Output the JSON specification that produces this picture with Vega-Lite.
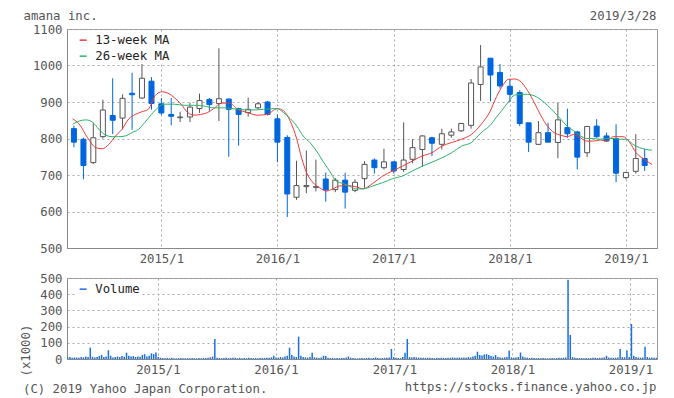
{
  "$schema": "https://vega.github.io/schema/vega-lite/v6.json",
  "background": "white",
  "autosize": {"type": "pad"},
  "padding": {"left": 18, "top": 8, "right": 10, "bottom": 5},
  "bounds": "flush",
  "spacing": 30,
  "resolve": {"scale": {"color": "independent"}, "legend": {"color": "independent"}},
  "config": {
    "font": "DejaVu Sans Mono",
    "view": {"stroke": "#999", "strokeWidth": 1},
    "axis": {
      "labelFont": "DejaVu Sans Mono", "labelFontSize": 12.3, "labelColor": "#555",
      "titleFont": "DejaVu Sans Mono", "titleFontSize": 12.3, "titleFontWeight": "normal", "titleColor": "#555",
      "ticks": false, "domain": true, "domainColor": "#888",
      "gridColor": "#aaa", "gridDash": [2, 3], "gridWidth": 1
    },
    "title": {"font": "DejaVu Sans Mono", "fontSize": 12.3, "fontWeight": "normal", "color": "#555"}
  },
  "datasets": {
    "candles": [
      {"d":"2014-04-01","o":827,"h":835,"l":776,"c":790},
      {"d":"2014-05-01","o":798,"h":802,"l":688,"c":726},
      {"d":"2014-06-01","o":734,"h":843,"l":730,"c":802},
      {"d":"2014-07-01","o":805,"h":906,"l":800,"c":878},
      {"d":"2014-08-01","o":863,"h":965,"l":812,"c":850},
      {"d":"2014-09-01","o":856,"h":921,"l":825,"c":910},
      {"d":"2014-10-01","o":924,"h":980,"l":824,"c":920},
      {"d":"2014-11-01","o":911,"h":1026,"l":908,"c":965},
      {"d":"2014-12-01","o":957,"h":968,"l":879,"c":896},
      {"d":"2015-01-01","o":895,"h":911,"l":864,"c":870},
      {"d":"2015-02-01","o":866,"h":911,"l":836,"c":861},
      {"d":"2015-03-01","o":857,"h":873,"l":845,"c":859},
      {"d":"2015-04-01","o":859,"h":898,"l":845,"c":886},
      {"d":"2015-05-01","o":882,"h":923,"l":870,"c":904},
      {"d":"2015-06-01","o":907,"h":911,"l":876,"c":893},
      {"d":"2015-07-01","o":896,"h":1047,"l":848,"c":909},
      {"d":"2015-08-01","o":908,"h":910,"l":750,"c":880},
      {"d":"2015-09-01","o":882,"h":884,"l":780,"c":866},
      {"d":"2015-10-01","o":871,"h":912,"l":860,"c":880},
      {"d":"2015-11-01","o":884,"h":900,"l":880,"c":895},
      {"d":"2015-12-01","o":900,"h":903,"l":863,"c":866},
      {"d":"2016-01-01","o":854,"h":866,"l":735,"c":790},
      {"d":"2016-02-01","o":803,"h":809,"l":585,"c":648},
      {"d":"2016-03-01","o":639,"h":739,"l":632,"c":671},
      {"d":"2016-04-01","o":668,"h":767,"l":650,"c":671},
      {"d":"2016-05-01","o":666,"h":742,"l":655,"c":668},
      {"d":"2016-06-01","o":689,"h":707,"l":627,"c":659},
      {"d":"2016-07-01","o":660,"h":692,"l":653,"c":686},
      {"d":"2016-08-01","o":686,"h":706,"l":608,"c":653},
      {"d":"2016-09-01","o":658,"h":688,"l":653,"c":680},
      {"d":"2016-10-01","o":690,"h":738,"l":665,"c":729},
      {"d":"2016-11-01","o":741,"h":745,"l":704,"c":720},
      {"d":"2016-12-01","o":720,"h":772,"l":715,"c":736},
      {"d":"2017-01-01","o":736,"h":738,"l":704,"c":711},
      {"d":"2017-02-01","o":715,"h":844,"l":708,"c":741},
      {"d":"2017-03-01","o":743,"h":798,"l":732,"c":775},
      {"d":"2017-04-01","o":770,"h":809,"l":723,"c":807},
      {"d":"2017-05-01","o":802,"h":805,"l":752,"c":787},
      {"d":"2017-06-01","o":784,"h":827,"l":770,"c":813},
      {"d":"2017-07-01","o":809,"h":827,"l":802,"c":818},
      {"d":"2017-08-01","o":821,"h":843,"l":818,"c":841},
      {"d":"2017-09-01","o":836,"h":963,"l":827,"c":952},
      {"d":"2017-10-01","o":948,"h":1056,"l":903,"c":996},
      {"d":"2017-11-01","o":1020,"h":1020,"l":902,"c":974},
      {"d":"2017-12-01","o":981,"h":1004,"l":937,"c":944},
      {"d":"2018-01-01","o":943,"h":963,"l":900,"c":921},
      {"d":"2018-02-01","o":926,"h":932,"l":834,"c":841},
      {"d":"2018-03-01","o":843,"h":843,"l":763,"c":790},
      {"d":"2018-04-01","o":784,"h":848,"l":782,"c":816},
      {"d":"2018-05-01","o":816,"h":843,"l":789,"c":790},
      {"d":"2018-06-01","o":789,"h":898,"l":746,"c":851},
      {"d":"2018-07-01","o":830,"h":882,"l":802,"c":813},
      {"d":"2018-08-01","o":818,"h":821,"l":715,"c":749},
      {"d":"2018-09-01","o":761,"h":834,"l":749,"c":833},
      {"d":"2018-10-01","o":834,"h":853,"l":802,"c":805},
      {"d":"2018-11-01","o":807,"h":816,"l":791,"c":793},
      {"d":"2018-12-01","o":800,"h":839,"l":680,"c":705},
      {"d":"2019-01-01","o":693,"h":707,"l":688,"c":707},
      {"d":"2019-02-01","o":710,"h":812,"l":704,"c":745},
      {"d":"2019-03-01","o":745,"h":772,"l":711,"c":726}
    ],
    "ma": [
      {"s":"13-week MA","d":"2014-03-28","v":854},{"s":"13-week MA","d":"2014-04-18","v":839},{"s":"13-week MA","d":"2014-05-14","v":802},{"s":"13-week MA","d":"2014-06-09","v":775},{"s":"13-week MA","d":"2014-06-29","v":772},{"s":"13-week MA","d":"2014-07-20","v":784},{"s":"13-week MA","d":"2014-08-10","v":807},{"s":"13-week MA","d":"2014-08-30","v":825},{"s":"13-week MA","d":"2014-09-20","v":853},{"s":"13-week MA","d":"2014-10-11","v":866},{"s":"13-week MA","d":"2014-10-31","v":873},{"s":"13-week MA","d":"2014-11-21","v":880},{"s":"13-week MA","d":"2014-12-12","v":917},{"s":"13-week MA","d":"2015-01-03","v":928},{"s":"13-week MA","d":"2015-01-22","v":924},{"s":"13-week MA","d":"2015-02-11","v":912},{"s":"13-week MA","d":"2015-03-04","v":894},{"s":"13-week MA","d":"2015-03-25","v":871},{"s":"13-week MA","d":"2015-04-14","v":864},{"s":"13-week MA","d":"2015-05-05","v":866},{"s":"13-week MA","d":"2015-05-26","v":871},{"s":"13-week MA","d":"2015-06-15","v":882},{"s":"13-week MA","d":"2015-07-08","v":897},{"s":"13-week MA","d":"2015-08-03","v":897},{"s":"13-week MA","d":"2015-08-29","v":880},{"s":"13-week MA","d":"2015-09-29","v":871},{"s":"13-week MA","d":"2015-10-30","v":864},{"s":"13-week MA","d":"2015-11-30","v":866},{"s":"13-week MA","d":"2015-12-31","v":882},{"s":"13-week MA","d":"2016-01-20","v":876},{"s":"13-week MA","d":"2016-02-10","v":848},{"s":"13-week MA","d":"2016-03-02","v":798},{"s":"13-week MA","d":"2016-03-17","v":747},{"s":"13-week MA","d":"2016-04-02","v":706},{"s":"13-week MA","d":"2016-04-22","v":679},{"s":"13-week MA","d":"2016-05-13","v":665},{"s":"13-week MA","d":"2016-06-03","v":656},{"s":"13-week MA","d":"2016-06-23","v":662},{"s":"13-week MA","d":"2016-07-14","v":670},{"s":"13-week MA","d":"2016-08-04","v":671},{"s":"13-week MA","d":"2016-09-04","v":668},{"s":"13-week MA","d":"2016-09-26","v":662},{"s":"13-week MA","d":"2016-10-27","v":677},{"s":"13-week MA","d":"2016-11-27","v":697},{"s":"13-week MA","d":"2016-12-28","v":711},{"s":"13-week MA","d":"2017-01-28","v":724},{"s":"13-week MA","d":"2017-02-28","v":738},{"s":"13-week MA","d":"2017-03-31","v":752},{"s":"13-week MA","d":"2017-05-01","v":761},{"s":"13-week MA","d":"2017-06-01","v":779},{"s":"13-week MA","d":"2017-07-02","v":789},{"s":"13-week MA","d":"2017-08-02","v":798},{"s":"13-week MA","d":"2017-09-02","v":811},{"s":"13-week MA","d":"2017-10-03","v":839},{"s":"13-week MA","d":"2017-11-03","v":880},{"s":"13-week MA","d":"2017-11-15","v":905},{"s":"13-week MA","d":"2017-12-06","v":940},{"s":"13-week MA","d":"2017-12-27","v":962},{"s":"13-week MA","d":"2018-01-16","v":963},{"s":"13-week MA","d":"2018-02-01","v":958},{"s":"13-week MA","d":"2018-02-26","v":931},{"s":"13-week MA","d":"2018-03-19","v":898},{"s":"13-week MA","d":"2018-04-09","v":862},{"s":"13-week MA","d":"2018-04-29","v":834},{"s":"13-week MA","d":"2018-05-20","v":816},{"s":"13-week MA","d":"2018-06-10","v":809},{"s":"13-week MA","d":"2018-06-30","v":805},{"s":"13-week MA","d":"2018-07-21","v":811},{"s":"13-week MA","d":"2018-08-11","v":802},{"s":"13-week MA","d":"2018-08-31","v":793},{"s":"13-week MA","d":"2018-09-21","v":793},{"s":"13-week MA","d":"2018-10-12","v":796},{"s":"13-week MA","d":"2018-11-01","v":793},{"s":"13-week MA","d":"2018-11-22","v":805},{"s":"13-week MA","d":"2018-12-23","v":805},{"s":"13-week MA","d":"2019-01-13","v":789},{"s":"13-week MA","d":"2019-02-02","v":761},{"s":"13-week MA","d":"2019-02-28","v":743},{"s":"13-week MA","d":"2019-03-24","v":729},
      {"s":"26-week MA","d":"2014-03-28","v":839},{"s":"26-week MA","d":"2014-04-18","v":848},{"s":"26-week MA","d":"2014-05-09","v":851},{"s":"26-week MA","d":"2014-05-29","v":845},{"s":"26-week MA","d":"2014-06-19","v":825},{"s":"26-week MA","d":"2014-07-10","v":809},{"s":"26-week MA","d":"2014-07-30","v":805},{"s":"26-week MA","d":"2014-08-20","v":805},{"s":"26-week MA","d":"2014-09-10","v":807},{"s":"26-week MA","d":"2014-09-30","v":816},{"s":"26-week MA","d":"2014-10-21","v":825},{"s":"26-week MA","d":"2014-11-10","v":844},{"s":"26-week MA","d":"2014-12-01","v":866},{"s":"26-week MA","d":"2014-12-22","v":885},{"s":"26-week MA","d":"2015-01-11","v":894},{"s":"26-week MA","d":"2015-02-11","v":894},{"s":"26-week MA","d":"2015-03-14","v":891},{"s":"26-week MA","d":"2015-04-14","v":891},{"s":"26-week MA","d":"2015-05-15","v":889},{"s":"26-week MA","d":"2015-06-15","v":884},{"s":"26-week MA","d":"2015-07-18","v":884},{"s":"26-week MA","d":"2015-08-29","v":880},{"s":"26-week MA","d":"2015-10-09","v":878},{"s":"26-week MA","d":"2015-11-19","v":880},{"s":"26-week MA","d":"2015-12-31","v":882},{"s":"26-week MA","d":"2016-01-20","v":871},{"s":"26-week MA","d":"2016-02-10","v":855},{"s":"26-week MA","d":"2016-03-02","v":834},{"s":"26-week MA","d":"2016-03-22","v":807},{"s":"26-week MA","d":"2016-04-12","v":789},{"s":"26-week MA","d":"2016-05-03","v":766},{"s":"26-week MA","d":"2016-05-23","v":738},{"s":"26-week MA","d":"2016-06-13","v":711},{"s":"26-week MA","d":"2016-07-04","v":683},{"s":"26-week MA","d":"2016-07-24","v":677},{"s":"26-week MA","d":"2016-08-14","v":670},{"s":"26-week MA","d":"2016-09-04","v":662},{"s":"26-week MA","d":"2016-09-26","v":662},{"s":"26-week MA","d":"2016-10-27","v":670},{"s":"26-week MA","d":"2016-11-27","v":679},{"s":"26-week MA","d":"2016-12-28","v":690},{"s":"26-week MA","d":"2017-01-28","v":697},{"s":"26-week MA","d":"2017-02-28","v":711},{"s":"26-week MA","d":"2017-03-31","v":724},{"s":"26-week MA","d":"2017-05-01","v":735},{"s":"26-week MA","d":"2017-06-01","v":747},{"s":"26-week MA","d":"2017-07-02","v":761},{"s":"26-week MA","d":"2017-08-02","v":779},{"s":"26-week MA","d":"2017-09-02","v":789},{"s":"26-week MA","d":"2017-10-03","v":816},{"s":"26-week MA","d":"2017-11-03","v":839},{"s":"26-week MA","d":"2017-11-15","v":853},{"s":"26-week MA","d":"2017-12-06","v":876},{"s":"26-week MA","d":"2017-12-27","v":900},{"s":"26-week MA","d":"2018-01-16","v":919},{"s":"26-week MA","d":"2018-02-06","v":921},{"s":"26-week MA","d":"2018-02-26","v":921},{"s":"26-week MA","d":"2018-03-19","v":917},{"s":"26-week MA","d":"2018-04-09","v":906},{"s":"26-week MA","d":"2018-04-29","v":891},{"s":"26-week MA","d":"2018-05-20","v":873},{"s":"26-week MA","d":"2018-06-10","v":853},{"s":"26-week MA","d":"2018-06-30","v":834},{"s":"26-week MA","d":"2018-07-21","v":821},{"s":"26-week MA","d":"2018-08-11","v":807},{"s":"26-week MA","d":"2018-08-31","v":800},{"s":"26-week MA","d":"2018-09-21","v":800},{"s":"26-week MA","d":"2018-10-12","v":798},{"s":"26-week MA","d":"2018-11-01","v":800},{"s":"26-week MA","d":"2018-11-22","v":800},{"s":"26-week MA","d":"2018-12-13","v":798},{"s":"26-week MA","d":"2019-01-02","v":798},{"s":"26-week MA","d":"2019-01-23","v":784},{"s":"26-week MA","d":"2019-02-13","v":775},{"s":"26-week MA","d":"2019-03-05","v":770},{"s":"26-week MA","d":"2019-03-24","v":768}
    ],
    "vol": [
      {"d":"2014-03-28","v":10},{"d":"2014-04-04","v":12},{"d":"2014-04-11","v":8},{"d":"2014-04-18","v":10},{"d":"2014-04-25","v":9},{"d":"2014-05-02","v":8},{"d":"2014-05-09","v":12},{"d":"2014-05-16","v":10},{"d":"2014-05-23","v":15},{"d":"2014-05-30","v":12},{"d":"2014-06-06","v":70},{"d":"2014-06-13","v":14},{"d":"2014-06-20","v":10},{"d":"2014-06-27","v":12},{"d":"2014-07-04","v":18},{"d":"2014-07-11","v":25},{"d":"2014-07-18","v":12},{"d":"2014-07-25","v":15},{"d":"2014-08-01","v":54},{"d":"2014-08-08","v":20},{"d":"2014-08-15","v":10},{"d":"2014-08-22","v":12},{"d":"2014-08-29","v":15},{"d":"2014-09-05","v":12},{"d":"2014-09-12","v":18},{"d":"2014-09-19","v":14},{"d":"2014-09-26","v":39},{"d":"2014-10-03","v":20},{"d":"2014-10-10","v":15},{"d":"2014-10-17","v":18},{"d":"2014-10-24","v":12},{"d":"2014-10-31","v":16},{"d":"2014-11-07","v":14},{"d":"2014-11-14","v":25},{"d":"2014-11-21","v":30},{"d":"2014-11-28","v":15},{"d":"2014-12-05","v":20},{"d":"2014-12-12","v":35},{"d":"2014-12-19","v":30},{"d":"2014-12-26","v":40},
      {"d":"2015-01-02","v":12},{"d":"2015-01-09","v":8},{"d":"2015-01-16","v":6},{"d":"2015-01-23","v":5},{"d":"2015-01-30","v":6},{"d":"2015-02-06","v":5},{"d":"2015-02-13","v":7},{"d":"2015-02-20","v":5},{"d":"2015-02-27","v":4},{"d":"2015-03-06","v":5},{"d":"2015-03-13","v":6},{"d":"2015-03-20","v":4},{"d":"2015-03-27","v":5},{"d":"2015-04-03","v":5},{"d":"2015-04-10","v":4},{"d":"2015-04-17","v":6},{"d":"2015-04-24","v":5},{"d":"2015-05-01","v":4},{"d":"2015-05-08","v":6},{"d":"2015-05-15","v":5},{"d":"2015-05-22","v":7},{"d":"2015-05-29","v":6},{"d":"2015-06-05","v":8},{"d":"2015-06-12","v":10},{"d":"2015-06-19","v":15},{"d":"2015-06-26","v":124},{"d":"2015-07-03","v":8},{"d":"2015-07-10","v":6},{"d":"2015-07-17","v":5},{"d":"2015-07-24","v":6},{"d":"2015-07-31","v":7},{"d":"2015-08-07","v":5},{"d":"2015-08-14","v":6},{"d":"2015-08-21","v":8},{"d":"2015-08-28","v":7},{"d":"2015-09-04","v":5},{"d":"2015-09-11","v":6},{"d":"2015-09-18","v":5},{"d":"2015-09-25","v":6},{"d":"2015-10-02","v":5},{"d":"2015-10-09","v":7},{"d":"2015-10-16","v":6},{"d":"2015-10-23","v":5},{"d":"2015-10-30","v":6},{"d":"2015-11-06","v":5},{"d":"2015-11-13","v":6},{"d":"2015-11-20","v":7},{"d":"2015-11-27","v":6},{"d":"2015-12-04","v":8},{"d":"2015-12-11","v":7},{"d":"2015-12-18","v":10},{"d":"2015-12-25","v":20},
      {"d":"2016-01-01","v":10},{"d":"2016-01-08","v":8},{"d":"2016-01-15","v":12},{"d":"2016-01-22","v":10},{"d":"2016-01-29","v":15},{"d":"2016-02-05","v":20},{"d":"2016-02-12","v":70},{"d":"2016-02-19","v":25},{"d":"2016-02-26","v":15},{"d":"2016-03-04","v":12},{"d":"2016-03-11","v":138},{"d":"2016-03-18","v":20},{"d":"2016-03-25","v":12},{"d":"2016-04-01","v":10},{"d":"2016-04-08","v":8},{"d":"2016-04-15","v":12},{"d":"2016-04-22","v":39},{"d":"2016-04-29","v":10},{"d":"2016-05-06","v":8},{"d":"2016-05-13","v":6},{"d":"2016-05-20","v":10},{"d":"2016-05-27","v":20},{"d":"2016-06-03","v":18},{"d":"2016-06-10","v":8},{"d":"2016-06-17","v":6},{"d":"2016-06-24","v":7},{"d":"2016-07-01","v":5},{"d":"2016-07-08","v":6},{"d":"2016-07-15","v":5},{"d":"2016-07-22","v":7},{"d":"2016-07-29","v":6},{"d":"2016-08-05","v":10},{"d":"2016-08-12","v":15},{"d":"2016-08-19","v":8},{"d":"2016-08-26","v":6},{"d":"2016-09-02","v":5},{"d":"2016-09-09","v":4},{"d":"2016-09-16","v":5},{"d":"2016-09-23","v":6},{"d":"2016-09-30","v":5},{"d":"2016-10-07","v":6},{"d":"2016-10-14","v":7},{"d":"2016-10-21","v":5},{"d":"2016-10-28","v":6},{"d":"2016-11-04","v":10},{"d":"2016-11-11","v":6},{"d":"2016-11-18","v":5},{"d":"2016-11-25","v":6},{"d":"2016-12-02","v":7},{"d":"2016-12-09","v":8},{"d":"2016-12-16","v":10},{"d":"2016-12-23","v":62},{"d":"2016-12-30","v":12},
      {"d":"2017-01-06","v":8},{"d":"2017-01-13","v":6},{"d":"2017-01-20","v":5},{"d":"2017-01-27","v":12},{"d":"2017-02-03","v":39},{"d":"2017-02-10","v":124},{"d":"2017-02-17","v":12},{"d":"2017-02-24","v":10},{"d":"2017-03-03","v":12},{"d":"2017-03-10","v":10},{"d":"2017-03-17","v":9},{"d":"2017-03-24","v":8},{"d":"2017-03-31","v":7},{"d":"2017-04-07","v":6},{"d":"2017-04-14","v":8},{"d":"2017-04-21","v":7},{"d":"2017-04-28","v":6},{"d":"2017-05-05","v":5},{"d":"2017-05-12","v":7},{"d":"2017-05-19","v":6},{"d":"2017-05-26","v":8},{"d":"2017-06-02","v":7},{"d":"2017-06-09","v":6},{"d":"2017-06-16","v":8},{"d":"2017-06-23","v":7},{"d":"2017-06-30","v":10},{"d":"2017-07-07","v":8},{"d":"2017-07-14","v":7},{"d":"2017-07-21","v":9},{"d":"2017-07-28","v":8},{"d":"2017-08-04","v":10},{"d":"2017-08-11","v":8},{"d":"2017-08-18","v":12},{"d":"2017-08-25","v":10},{"d":"2017-09-01","v":15},{"d":"2017-09-08","v":20},{"d":"2017-09-15","v":45},{"d":"2017-09-22","v":25},{"d":"2017-09-29","v":22},{"d":"2017-10-06","v":28},{"d":"2017-10-13","v":30},{"d":"2017-10-20","v":25},{"d":"2017-10-27","v":18},{"d":"2017-11-03","v":15},{"d":"2017-11-10","v":25},{"d":"2017-11-17","v":12},{"d":"2017-11-24","v":10},{"d":"2017-12-01","v":8},{"d":"2017-12-08","v":10},{"d":"2017-12-15","v":12},{"d":"2017-12-22","v":52},{"d":"2017-12-29","v":10},
      {"d":"2018-01-05","v":8},{"d":"2018-01-12","v":10},{"d":"2018-01-19","v":12},{"d":"2018-01-26","v":40},{"d":"2018-02-02","v":15},{"d":"2018-02-09","v":10},{"d":"2018-02-16","v":8},{"d":"2018-02-23","v":6},{"d":"2018-03-02","v":7},{"d":"2018-03-09","v":6},{"d":"2018-03-16","v":5},{"d":"2018-03-23","v":6},{"d":"2018-03-30","v":5},{"d":"2018-04-06","v":6},{"d":"2018-04-13","v":5},{"d":"2018-04-20","v":4},{"d":"2018-04-27","v":5},{"d":"2018-05-04","v":6},{"d":"2018-05-11","v":5},{"d":"2018-05-18","v":6},{"d":"2018-05-25","v":7},{"d":"2018-06-01","v":6},{"d":"2018-06-08","v":8},{"d":"2018-06-15","v":10},{"d":"2018-06-22","v":489},{"d":"2018-06-29","v":148},{"d":"2018-07-06","v":12},{"d":"2018-07-13","v":8},{"d":"2018-07-20","v":6},{"d":"2018-07-27","v":5},{"d":"2018-08-03","v":6},{"d":"2018-08-10","v":5},{"d":"2018-08-17","v":6},{"d":"2018-08-24","v":5},{"d":"2018-08-31","v":6},{"d":"2018-09-07","v":7},{"d":"2018-09-14","v":8},{"d":"2018-09-21","v":6},{"d":"2018-09-28","v":7},{"d":"2018-10-05","v":8},{"d":"2018-10-12","v":10},{"d":"2018-10-19","v":20},{"d":"2018-10-26","v":10},{"d":"2018-11-02","v":8},{"d":"2018-11-09","v":7},{"d":"2018-11-16","v":8},{"d":"2018-11-23","v":10},{"d":"2018-11-30","v":62},{"d":"2018-12-07","v":12},{"d":"2018-12-14","v":10},{"d":"2018-12-21","v":54},{"d":"2018-12-28","v":12},
      {"d":"2019-01-04","v":216},{"d":"2019-01-11","v":20},{"d":"2019-01-18","v":12},{"d":"2019-01-25","v":10},{"d":"2019-02-01","v":8},{"d":"2019-02-08","v":10},{"d":"2019-02-15","v":76},{"d":"2019-02-22","v":12},{"d":"2019-03-01","v":8},{"d":"2019-03-08","v":10},{"d":"2019-03-15","v":7},{"d":"2019-03-22","v":8}
    ]
  },
  "vconcat": [
    {
      "width": 590,
      "height": 219,
      "layer": [
        {
          "data": {"name": "candles"},
          "mark": {"type": "rule", "strokeWidth": 1, "clip": true},
          "encoding": {
            "x": {
              "field": "d", "type": "temporal",
              "scale": {"domain": [{"year": 2014, "month": 3, "date": 26}, {"year": 2019, "month": 3, "date": 24}]},
              "axis": {
                "values": [{"year": 2015, "month": 1, "date": 1}, {"year": 2016, "month": 1, "date": 1}, {"year": 2017, "month": 1, "date": 1}, {"year": 2018, "month": 1, "date": 1}, {"year": 2019, "month": 1, "date": 1}],
                "format": "%Y/%-m", "grid": true, "labelPadding": 4, "labelDx": -6.5, "labelFlush": false, "labelOverlap": false,
                "title": "2019/3/28", "titleAngle": 0, "titleAlign": "right", "titleBaseline": "alphabetic", "titleX": 589, "titleY": -229
              }
            },
            "y": {
              "field": "l", "type": "quantitative",
              "scale": {"domain": [500, 1100], "nice": false, "zero": false},
              "title": "amana inc.",
              "axis": {
                "values": [500, 600, 700, 800, 900, 1000, 1100], "format": "d", "labelOverlap": false, "grid": true, "labelPadding": 5,
                "titleAngle": 0, "titleAlign": "left", "titleBaseline": "alphabetic", "titleX": -44, "titleY": -10
              }
            },
            "y2": {"field": "h"},
            "stroke": {"condition": {"test": "datum.c >= datum.o", "value": "#555555"}, "value": "#0066dd"}
          }
        },
        {
          "data": {"name": "candles"},
          "mark": {"type": "bar", "size": 5, "strokeWidth": 1, "clip": true},
          "encoding": {
            "x": {"field": "d", "type": "temporal"},
            "y": {
              "field": "o", "type": "quantitative", "title": "amana inc.",
              "axis": {
                "values": [500, 600, 700, 800, 900, 1000, 1100], "format": "d", "labelOverlap": false, "grid": true, "labelPadding": 5,
                "titleAngle": 0, "titleAlign": "left", "titleBaseline": "alphabetic", "titleX": -44, "titleY": -10
              }
            },
            "y2": {"field": "c"},
            "fill": {"condition": {"test": "datum.c >= datum.o", "value": "#ffffff"}, "value": "#0066dd"},
            "stroke": {"condition": {"test": "datum.c >= datum.o", "value": "#555555"}, "value": "#0066dd"}
          }
        },
        {
          "data": {"name": "ma"},
          "mark": {"type": "line", "strokeWidth": 1, "clip": true, "interpolate": "monotone"},
          "encoding": {
            "x": {"field": "d", "type": "temporal"},
            "y": {
              "field": "v", "type": "quantitative", "title": "amana inc.",
              "axis": {
                "values": [500, 600, 700, 800, 900, 1000, 1100], "format": "d", "labelOverlap": false, "grid": true, "labelPadding": 5,
                "titleAngle": 0, "titleAlign": "left", "titleBaseline": "alphabetic", "titleX": -44, "titleY": -10
              }
            },
            "color": {
              "field": "s", "type": "nominal",
              "scale": {"domain": ["13-week MA", "26-week MA"], "range": ["#ee3b3b", "#2eb36b"]},
              "legend": {
                "orient": "none", "legendX": 9, "legendY": 4, "title": null,
                "symbolType": "stroke", "symbolSize": 49, "symbolStrokeWidth": 1.5,
                "labelFont": "DejaVu Sans Mono", "labelFontSize": 12.3, "labelColor": "#222",
                "labelOffset": 6, "rowPadding": 3, "padding": 1, "fillColor": "white"
              }
            }
          }
        }
      ]
    },
    {
      "width": 590,
      "height": 81,
      "title": {"text": "(C) 2019 Yahoo Japan Corporation.", "orient": "bottom", "anchor": "start", "frame": "group", "dx": -44, "dy": -10, "offset": 0},
      "layer": [
        {
          "data": {"name": "vol"},
          "mark": {"type": "rule", "strokeWidth": 1.5, "clip": true},
          "encoding": {
            "x": {
              "field": "d", "type": "temporal",
              "scale": {"domain": [{"year": 2014, "month": 3, "date": 26}, {"year": 2019, "month": 3, "date": 24}]},
              "axis": {
                "values": [{"year": 2015, "month": 1, "date": 1}, {"year": 2016, "month": 1, "date": 1}, {"year": 2017, "month": 1, "date": 1}, {"year": 2018, "month": 1, "date": 1}, {"year": 2019, "month": 1, "date": 1}],
                "format": "%Y/%-m", "grid": true, "labelPadding": 4, "labelDx": -6.5, "labelFlush": false, "labelOverlap": false,
                "title": "https://stocks.finance.yahoo.co.jp", "titleAngle": 0, "titleAlign": "right", "titleBaseline": "alphabetic", "titleX": 589, "titleY": 31.5
              }
            },
            "y": {
              "field": "v", "type": "quantitative",
              "scale": {"domain": [0, 500], "nice": false},
              "axis": {
                "values": [0, 100, 200, 300, 400, 500], "format": "d", "labelOverlap": false, "grid": true, "labelPadding": 5,
                "title": "(x1000)", "titleAngle": -90, "titleAlign": "left", "titleBaseline": "middle", "titleX": -42, "titleY": 98
              }
            },
            "y2": {"datum": 0},
            "color": {
              "datum": "Volume",
              "scale": {"domain": ["Volume"], "range": ["#1a6fe0"]},
              "legend": {
                "orient": "none", "legendX": 9, "legendY": 4, "title": null,
                "symbolType": "stroke", "symbolSize": 49, "symbolStrokeWidth": 1.5,
                "labelFont": "DejaVu Sans Mono", "labelFontSize": 12.3, "labelColor": "#222",
                "labelOffset": 6, "padding": 1, "fillColor": "white"
              }
            }
          }
        }
      ]
    }
  ]
}
